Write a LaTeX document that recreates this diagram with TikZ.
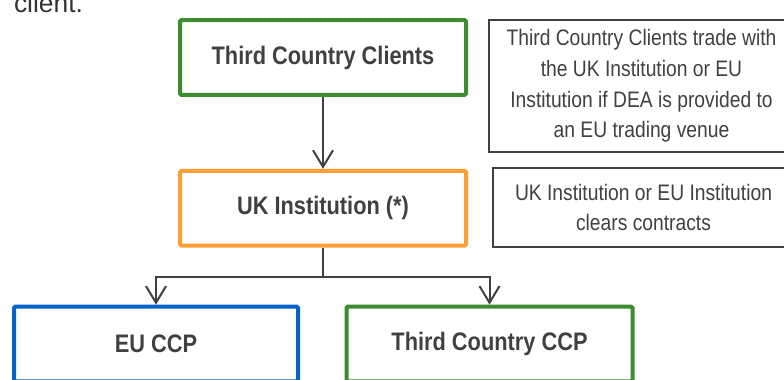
\documentclass[tikz,border=0pt]{standalone}
\usepackage{fontspec}
\setmainfont{Liberation Sans}
\newfontfamily\narrowfont{Liberation Sans}[FakeStretch=0.86]
\usepackage{tikz}
\usetikzlibrary{arrows.meta}
\usetikzlibrary{calc}
\definecolor{boxgreen}{RGB}{61,140,48}
\definecolor{boxorange}{RGB}{255,158,52}
\definecolor{boxblue}{RGB}{5,99,201}
\definecolor{inkgray}{RGB}{64,64,64}
\tikzset{>={Straight Barb[length=12.5pt,width=15pt]}}

\begin{document}
\begin{tikzpicture}[x=0.75pt,y=-0.75pt,->,line width=1.5pt,draw=inkgray,node distance=113pt,text=inkgray]
  \tikzstyle{every node}=[inner sep=0pt]
  \tikzstyle{unit}=[draw,line width=3pt,rounded corners=1pt,minimum width=214.5pt,minimum height=56pt,align=center,font=\narrowfont\bfseries\fontsize{19}{23}\selectfont]
  \tikzstyle{remark}=[draw=inkgray,line width=1.1pt,align=center,font=\narrowfont\fontsize{16.8}{23.1}\selectfont]

  \useasboundingbox (0,0) rectangle (784,379);

  \node[anchor=base west,text=black!80,font=\fontsize{19.8}{24}\selectfont] (lead) at (13,12.5) {client.};

  \node[unit,draw=boxgreen]                (clients) at (323,57.5) {Third Country Clients};
  \node[unit,draw=boxorange]               (ukinst) [below of=clients] {UK Institution (*)};
  \node[unit,draw=boxblue,minimum width=213pt]  (euccp) at (156,344)   {EU CCP};
  \node[unit,draw=boxgreen]                (tcccp) at (489.5,344)  {Third Country CCP};

  \node[remark,minimum width=229pt,minimum height=99pt] (tradenote) at (641.5,86)
        {Third Country Clients trade with\\ the UK Institution or EU\\ Institution if DEA is provided to\\ an EU trading venue};
  \node[remark,minimum width=226pt,minimum height=59pt] (clearnote) at (643.5,207.5)
        {UK Institution or EU Institution\\ clears contracts};

  \draw (clients) -- (ukinst);
  \draw (ukinst.south) -- ++(0,29) -| (euccp.north);
  \draw (ukinst.south) -- ++(0,29) -| (tcccp.north);
\end{tikzpicture}
\end{document}
